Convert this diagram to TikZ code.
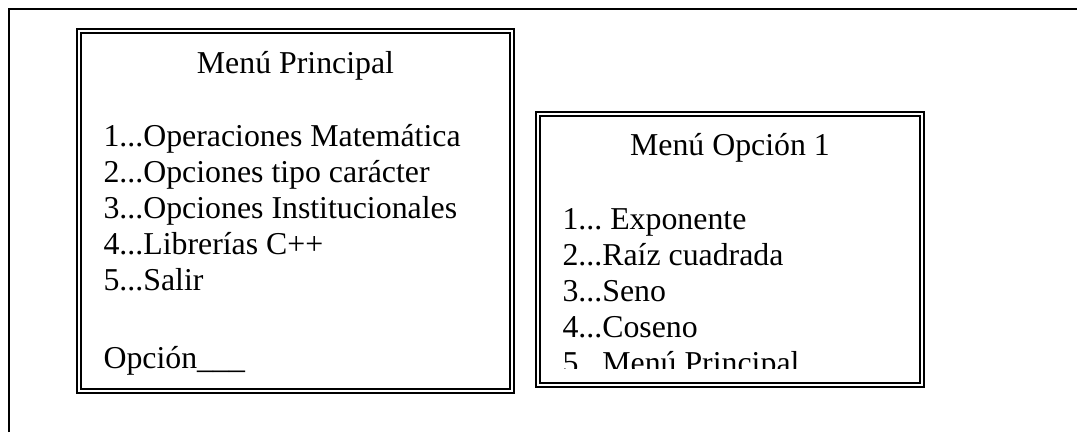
\documentclass[tikz,border=0pt]{standalone}
\usepackage{fontspec}
\setmainfont{Liberation Serif}
\usetikzlibrary{positioning}

\tikzset{
  menubox/.style={draw, line width=0.75pt, double, double distance=0.85pt},
  menutitle/.style={anchor=base, inner sep=0pt},
  menuitem/.style={anchor=base west, inner sep=0pt},
}

\begin{document}
\begin{tikzpicture}[x=0.377pt, y=-0.377pt, font=\fontsize{12}{14}\selectfont]
  \useasboundingbox (0,0) rectangle (1077,432);
  % page frame, only its top and left edges show
  \draw[line width=0.75pt] (9,432) -- (9,9) -- (1077,9);

  % main menu
  \draw[menubox] (79,31) rectangle (512,391);
  \node[menutitle] (principal) at (295.5,73) {Menú Principal};
  \foreach \n/\txt in {1/Operaciones Matemática, 2/Opciones tipo carácter,
      3/Opciones Institucionales, 4/Librerías C++, 5/Salir} {
    \node[menuitem] (p\n) at (103,{146+36*(\n-1)}) {\n...\txt};
  }
  \node[menuitem] (opcion) at (103,368) {Opción\_\_\_};

  % menu of option 1
  \draw[menubox] (538,114) rectangle (922,385);
  \node[menutitle] (opcion1) at (730,155) {Menú Opción 1};
  \begin{scope}
    \clip (538,114) rectangle (922,368);
    \foreach \n/\txt in {1/\ Exponente, 2/Raíz cuadrada, 3/Seno,
        4/Coseno, 5/Menú Principal} {
      \node[menuitem] (q\n) at (562,{229+36*(\n-1)}) {\n...\txt};
    }
  \end{scope}
\end{tikzpicture}
\end{document}
